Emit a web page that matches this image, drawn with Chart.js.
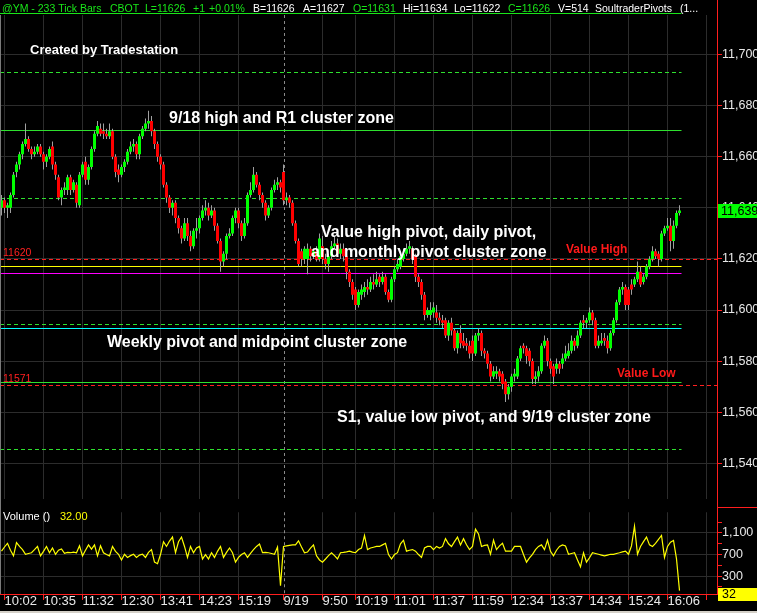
<!DOCTYPE html>
<html>
<head>
<meta charset="utf-8">
<title>@YM - 233 Tick Bars</title>
<script src="https://cdn.jsdelivr.net/npm/chart.js@4/dist/chart.umd.min.js"></script>
<style>
  html, body { margin: 0; padding: 0; background: #000; }
  body { width: 757px; height: 613px; position: relative; overflow: hidden; }
  .pane { position: absolute; left: 0; width: 757px; }
  #pricePane { top: 0; height: 506px; }
  #volumePane { top: 506px; height: 107px; }
</style>
</head>
<body>
<div class="pane" id="pricePane"><canvas id="priceChart"></canvas></div>
<div class="pane" id="volumePane"><canvas id="volumeChart"></canvas></div>
<script>
// ---- 233-tick bars, 9/18 - 9/19 ----
const opens = [
  11640,11643,11640,11640,11645,11654,11657,11661,11665,11667,
  11663,11661,11662,11664,11661,11658,11660,11664,11657,11652,
  11644,11647,11647,11652,11647,11649,11641,11653,11658,11651,
  11656,11663,11669,11671,11670,11669,11668,11670,11660,11655,
  11653,11656,11658,11662,11664,11665,11661,11668,11671,11673,
  11674,11670,11665,11660,11657,11649,11644,11640,11642,11636,
  11632,11628,11634,11629,11625,11631,11632,11636,11639,11640,
  11637,11639,11633,11627,11619,11622,11629,11630,11636,11639,
  11634,11629,11634,11645,11647,11653,11649,11645,11642,11637,
  11640,11647,11649,11650,11654,11643,11644,11642,11634,11627,
  11623,11620,11620,11624,11621,11623,11620,11625,11620,11618,
  11621,11625,11626,11622,11624,11621,11615,11611,11608,11602,
  11606,11607,11609,11608,11611,11610,11613,11611,11613,11607,
  11604,11612,11616,11617,11620,11622,11624,11624,11621,11613,
  11611,11606,11598,11598,11599,11599,11597,11596,11596,11590,
  11595,11592,11585,11591,11588,11587,11586,11588,11583,11590,
  11591,11584,11583,11579,11574,11575,11576,11575,11572,11567,
  11570,11574,11574,11581,11586,11585,11584,11580,11573,11574,
  11576,11586,11588,11580,11578,11577,11579,11579,11581,11582,
  11584,11588,11586,11590,11596,11595,11596,11599,11596,11586,
  11587,11589,11588,11585,11591,11596,11603,11608,11609,11608,
  11610,11610,11612,11615,11611,11613,11617,11620,11623,11622,
  11620,11630,11632,11633,11627,11633,11638
];
const highs = [
  11645,11644,11642,11646,11654,11658,11662,11666,11673,11668,
  11664,11664,11665,11665,11662,11661,11664,11666,11658,11653,
  11648,11650,11653,11653,11651,11650,11654,11658,11660,11657,
  11664,11670,11674,11673,11673,11671,11673,11671,11661,11657,
  11657,11659,11663,11666,11667,11666,11669,11672,11675,11678,
  11676,11671,11666,11661,11658,11650,11645,11643,11643,11637,
  11633,11636,11636,11631,11632,11636,11637,11641,11643,11642,
  11641,11640,11634,11628,11623,11630,11632,11637,11640,11640,
  11635,11636,11646,11650,11656,11654,11650,11646,11643,11641,
  11648,11651,11652,11651,11657,11646,11645,11643,11635,11628,
  11624,11625,11626,11625,11624,11625,11630,11629,11622,11622,
  11627,11629,11628,11626,11626,11622,11616,11612,11609,11608,
  11610,11611,11612,11613,11614,11615,11614,11615,11614,11608,
  11613,11617,11620,11623,11624,11626,11627,11625,11622,11614,
  11612,11607,11601,11603,11603,11602,11599,11598,11597,11596,
  11597,11593,11592,11594,11591,11589,11588,11590,11591,11593,
  11592,11585,11584,11580,11578,11578,11577,11576,11573,11571,
  11575,11577,11582,11586,11587,11586,11585,11581,11576,11578,
  11587,11590,11589,11581,11579,11581,11580,11583,11586,11587,
  11590,11589,11592,11596,11598,11597,11601,11600,11597,11590,
  11591,11591,11590,11592,11597,11604,11609,11611,11610,11609,
  11612,11613,11619,11617,11614,11618,11621,11625,11624,11623,
  11631,11633,11636,11636,11635,11639,11641
];
const lows = [
  11637,11638,11636,11638,11644,11652,11655,11659,11664,11662,
  11659,11660,11661,11660,11655,11656,11659,11655,11651,11643,
  11641,11645,11645,11645,11646,11640,11640,11652,11649,11649,
  11655,11662,11668,11668,11667,11667,11667,11659,11652,11650,
  11652,11654,11657,11661,11662,11659,11659,11667,11670,11671,
  11668,11663,11658,11655,11648,11642,11638,11637,11634,11630,
  11626,11627,11627,11623,11624,11628,11630,11635,11637,11635,
  11636,11631,11626,11615,11617,11620,11628,11629,11634,11632,
  11627,11628,11633,11644,11646,11648,11643,11640,11635,11636,
  11639,11646,11647,11646,11641,11641,11640,11633,11626,11617,
  11617,11618,11614,11619,11620,11619,11619,11618,11616,11615,
  11620,11624,11621,11620,11619,11612,11609,11604,11600,11601,
  11604,11605,11606,11607,11608,11609,11609,11610,11606,11603,
  11603,11611,11615,11616,11619,11621,11622,11618,11611,11609,
  11604,11596,11597,11596,11597,11595,11594,11593,11589,11588,
  11590,11584,11583,11585,11585,11584,11581,11580,11582,11588,
  11582,11581,11577,11572,11573,11573,11572,11569,11564,11565,
  11568,11572,11573,11580,11583,11579,11578,11571,11571,11572,
  11575,11585,11578,11575,11571,11575,11575,11577,11580,11581,
  11583,11584,11585,11589,11593,11593,11595,11594,11585,11585,
  11586,11586,11583,11584,11590,11595,11602,11606,11600,11600,
  11606,11609,11611,11609,11610,11612,11616,11619,11620,11617,
  11619,11629,11631,11623,11624,11632,11637
];
const closes = [
  11643,11640,11641,11645,11653,11657,11661,11665,11667,11663,
  11661,11662,11664,11661,11658,11660,11663,11657,11653,11644,
  11647,11648,11652,11647,11650,11642,11653,11657,11651,11656,
  11663,11669,11672,11669,11669,11668,11670,11660,11654,11653,
  11656,11658,11662,11664,11665,11661,11668,11671,11673,11674,
  11670,11665,11660,11657,11649,11644,11640,11642,11636,11632,
  11628,11634,11629,11625,11631,11632,11636,11639,11640,11637,
  11639,11633,11627,11619,11622,11629,11630,11636,11639,11634,
  11629,11634,11645,11647,11653,11649,11645,11642,11637,11640,
  11647,11649,11650,11648,11643,11644,11642,11634,11627,11618,
  11620,11624,11624,11621,11623,11620,11628,11620,11618,11621,
  11625,11626,11622,11624,11621,11615,11611,11606,11602,11607,
  11608,11609,11608,11611,11610,11612,11611,11613,11607,11604,
  11612,11616,11618,11621,11622,11624,11625,11620,11613,11611,
  11606,11598,11600,11600,11601,11597,11596,11595,11590,11595,
  11592,11585,11591,11587,11586,11586,11583,11583,11590,11591,
  11584,11583,11579,11574,11576,11576,11574,11571,11567,11570,
  11574,11575,11581,11585,11585,11582,11580,11573,11574,11576,
  11586,11588,11580,11577,11574,11579,11577,11581,11583,11584,
  11588,11586,11590,11595,11595,11596,11599,11596,11586,11588,
  11588,11588,11585,11591,11596,11603,11608,11609,11602,11602,
  11608,11612,11615,11610,11613,11617,11620,11623,11621,11620,
  11630,11632,11633,11627,11633,11638,11639
];
const volumes = [
  763,840,908,780,676,920,850,792,705,720,
  734,790,850,676,760,850,734,821,705,780,
  804,722,740,734,745,734,862,676,780,879,
  800,879,676,862,734,700,676,850,760,705,
  600,705,647,680,705,647,690,705,647,740,
  792,560,531,700,937,850,950,1024,734,937,
  1024,850,647,850,734,821,850,618,700,618,
  734,647,760,850,647,740,821,734,560,647,
  700,734,647,720,792,850,896,734,740,734,
  720,705,838,125,850,862,870,879,879,954,
  840,734,746,820,879,676,600,560,618,680,
  734,680,618,734,740,750,763,745,734,792,
  820,1053,792,821,835,850,850,879,908,700,
  618,700,734,900,966,763,780,792,763,700,
  647,821,850,850,792,850,820,850,995,900,
  850,940,1024,879,995,880,792,850,1169,1082,
  850,870,879,705,966,792,860,908,763,763,
  763,850,850,850,700,560,640,705,792,850,
  879,792,966,760,676,780,850,879,860,705,
  720,734,600,473,734,560,640,734,720,705,
  690,676,690,705,705,720,734,750,763,705,
  860,1227,705,850,940,1024,879,850,908,980,
  1053,647,850,930,960,620,32
];

// time axis: bar slots that carry a time label
const tickBars   = [1, 14, 27, 40, 53, 66, 79, 94, 107, 118, 131, 144, 157, 170, 183, 196, 209, 222, 235];
const tickLabels = ['10:02','10:35','11:32','12:30','13:41','14:23','15:19','9/19','9:50','10:19','11:01','11:37','11:59','12:34','13:37','14:34','15:24','16:06',''];
const dayBreakBar = 94;

// price and volume axis ticks
const priceTicks = [11540, 11560, 11580, 11600, 11620, 11640, 11660, 11680, 11700];
const volumeTicks = [100, 300, 500, 700, 900, 1100, 1300];
const volumeLabelTicks = [300, 700, 1100];

// pivot / cluster levels
const levelPrices = [11693, 11670.6, 11644, 11620, 11617.2, 11614.4, 11594.7, 11592.8, 11572, 11570.7, 11545.5];
const levelKinds  = ['greenDash','greenSolid','greenDash','redDash','yellow','magenta','greenDash','cyan','greenSolid','redDash','greenDash'];
const tagPrices = [11620, 11570.7];
const tagTexts  = ['11620', '11571'];

// quote header
const headerTokens = [
  ['@YM - 233 Tick Bars','g'], ['CBOT','g'], ['L=11626','g'], ['+1','g'], ['+0.01%','g'],
  ['B=11626','w'], ['A=11627','w'], ['O=11631','g'], ['Hi=11634','w'], ['Lo=11622','w'],
  ['C=11626','g'], ['V=514','w'], ['SoultraderPivots','w'], ['(1...','w']
];
const notes = [
  'Created by Tradestation',
  '9/18 high and R1 cluster zone',
  'Value high pivot, daily pivot,',
  'and monthly pivot cluster zone',
  'Weekly pivot and midpoint cluster zone',
  'S1, value low pivot, and 9/19 cluster zone'
];
const zoneTags = ['Value High', 'Value Low'];
const lastPrice = 11639;
const lastVolume = 32;

// ---- layout & style ----
const SLOT_COUNT = 239;
const slots = Array.from({ length: SLOT_COUNT }, (_, i) => i);
const AXIS_W = 40;
const GRID = '#2c2c2c';
const RED = '#ff1e1e';
const UP = '#00ff00';
const DOWN = '#ff0000';
const WICK = '#a0a0a0';
const LABEL = '#e8e8e8';
const HDR_GREEN = '#19e619';
const NARROW = '"Liberation Sans Narrow", "Liberation Sans", Arial, sans-serif';
const SANS = '"Liberation Sans", Arial, sans-serif';

const headerX = [2, 110, 145, 193, 209, 253, 303, 353, 403, 454, 508, 558, 595, 680];
const notePlace = [[30, 54, 13], [169, 123, 16], [321, 237, 16], [311, 256.5, 16], [107, 346.5, 16], [337, 421.5, 16]];
const zoneTagPlace = [[566, 253], [617, 377]];
const levelStyle = {
  greenDash:  { color: '#2ee02e', dash: [4, 3], toAxis: false },
  greenSolid: { color: '#2ee02e', dash: [],     toAxis: false },
  redDash:    { color: '#ff2020', dash: [4, 3], toAxis: true },
  yellow:     { color: '#ffff00', dash: [],     toAxis: false },
  magenta:    { color: '#ff00ff', dash: [],     toAxis: false },
  cyan:       { color: '#00ffff', dash: [],     toAxis: false }
};

Chart.defaults.font.family = SANS;
Chart.defaults.animation = false;

const isGridBar = i => tickBars.indexOf(i) >= 0 && i !== dayBreakBar;
const xGridColor = c => isGridBar(c.index) ? GRID : 'rgba(0,0,0,0)';

function drawDayBreak(chart) {
  const { ctx, chartArea: a, scales: { x } } = chart;
  const bx = Math.round(x.getPixelForValue(dayBreakBar)) + 0.5;
  ctx.save();
  ctx.strokeStyle = '#8a8a8a';
  ctx.lineWidth = 1;
  ctx.setLineDash([3, 3]);
  ctx.beginPath();
  ctx.moveTo(bx, a.top);
  ctx.lineTo(bx, a.bottom);
  ctx.stroke();
  ctx.restore();
}

const priceDecor = {
  id: 'priceDecor',
  beforeDatasetsDraw(chart) {
    const { ctx, chartArea: a, scales: { x, y } } = chart;
    drawDayBreak(chart);
    const dataEnd = x.getPixelForValue(opens.length - 1) + 2;
    ctx.save();
    ctx.lineWidth = 1;
    levelPrices.forEach((p, k) => {
      const st = levelStyle[levelKinds[k]];
      const py = Math.round(y.getPixelForValue(p)) + 0.5;
      ctx.strokeStyle = st.color;
      ctx.setLineDash(st.dash);
      ctx.beginPath();
      ctx.moveTo(a.left, py);
      ctx.lineTo(st.toAxis ? a.right : dataEnd, py);
      ctx.stroke();
    });
    ctx.restore();
  },
  afterDraw(chart) {
    const { ctx, chartArea: a, scales: { x, y }, width, height } = chart;
    ctx.save();
    // quote header
    ctx.font = '10.5px ' + SANS;
    ctx.textBaseline = 'alphabetic';
    headerTokens.forEach(([t, c], k) => {
      ctx.fillStyle = c === 'g' ? HDR_GREEN : '#ffffff';
      ctx.fillText(t, headerX[k], 11.5);
    });
    ctx.strokeStyle = HDR_GREEN;
    ctx.lineWidth = 1;
    ctx.beginPath();
    ctx.moveTo(0, 13.5);
    ctx.lineTo(x.getPixelForValue(opens.length - 1) + 2, 13.5);
    ctx.stroke();

    // level tags on the left
    ctx.font = '10.5px ' + SANS;
    ctx.fillStyle = '#ff2020';
    tagPrices.forEach((p, k) => ctx.fillText(tagTexts[k], 3, y.getPixelForValue(p) - 2.5));

    // notes
    ctx.fillStyle = '#ffffff';
    notes.forEach((t, k) => {
      const [nx, ny, ns] = notePlace[k];
      ctx.font = 'bold ' + ns + 'px ' + SANS;
      ctx.fillText(t, nx, ny);
    });
    ctx.fillStyle = '#ff1a1a';
    ctx.font = 'bold 12px ' + SANS;
    zoneTags.forEach((t, k) => ctx.fillText(t, zoneTagPlace[k][0], zoneTagPlace[k][1]));

    // last price box
    const py = Math.round(y.getPixelForValue(lastPrice));
    ctx.fillStyle = UP;
    ctx.fillRect(a.right + 1, py - 6, width - a.right - 1, 14);
    ctx.fillStyle = '#000';
    ctx.font = '12.5px ' + NARROW;
    ctx.textBaseline = 'middle';
    ctx.fillText(lastPrice.toLocaleString('en-US'), a.right + 4, py + 1.5);

    // axis line through the header and pane gap, left frame
    ctx.strokeStyle = RED;
    ctx.beginPath();
    ctx.moveTo(a.right + 0.5, 0);
    ctx.lineTo(a.right + 0.5, height);
    ctx.stroke();
    ctx.strokeStyle = '#7a7a7a';
    ctx.beginPath();
    ctx.moveTo(0.5, a.top);
    ctx.lineTo(0.5, height);
    ctx.stroke();
    ctx.restore();
  }
};

const volumeDecor = {
  id: 'volumeDecor',
  beforeDatasetsDraw(chart) { drawDayBreak(chart); },
  afterDraw(chart) {
    const { ctx, chartArea: a, scales: { y }, width, height } = chart;
    ctx.save();
    ctx.strokeStyle = RED;
    ctx.lineWidth = 1;
    ctx.beginPath();
    ctx.moveTo(a.right + 0.5, 0);
    ctx.lineTo(a.right + 0.5, a.bottom);
    ctx.moveTo(a.right, 1.5);
    ctx.lineTo(width, 1.5);
    ctx.stroke();
    ctx.strokeStyle = '#7a7a7a';
    ctx.beginPath();
    ctx.moveTo(0.5, 0);
    ctx.lineTo(0.5, a.bottom);
    ctx.stroke();

    // study title
    ctx.font = '11px ' + SANS;
    ctx.textBaseline = 'alphabetic';
    ctx.fillStyle = '#ffffff';
    ctx.fillText('Volume ()', 3, 13.5);
    ctx.fillStyle = '#ffff00';
    ctx.fillText(lastVolume.toFixed(2), 60, 13.5);

    // last volume box
    const vy = Math.round(y.getPixelForValue(lastVolume));
    ctx.fillStyle = '#ffff00';
    ctx.fillRect(a.right + 1, vy - 3, width - a.right - 1, 13);
    ctx.fillStyle = '#000';
    ctx.font = '12.5px ' + NARROW;
    ctx.textBaseline = 'middle';
    ctx.fillText(String(lastVolume), a.right + 5, vy + 3.5);

    // window frame
    ctx.fillStyle = '#d4d0c8';
    ctx.fillRect(0, height - 2, width, 2);
    ctx.restore();
  }
};

new Chart(document.getElementById('priceChart'), {
  type: 'bar',
  data: {
    labels: slots,
    datasets: [
      {
        label: 'body',
        data: opens.map((o, i) => [o, closes[i]]),
        backgroundColor: opens.map((o, i) => closes[i] >= o ? UP : DOWN),
        barThickness: 3,
        grouped: false,
        minBarLength: 1,
        borderWidth: 0,
        inflateAmount: 0
      },
      {
        label: 'range',
        data: lows.map((l, i) => [l, highs[i]]),
        backgroundColor: WICK,
        barThickness: 1,
        grouped: false,
        borderWidth: 0,
        inflateAmount: 0
      }
    ]
  },
  options: {
    responsive: true,
    maintainAspectRatio: false,
    devicePixelRatio: 1,
    events: [],
    layout: { padding: { top: 15, bottom: 2, left: 0, right: 0 } },
    plugins: { legend: { display: false }, tooltip: { enabled: false }, title: { display: false } },
    scales: {
      x: {
        type: 'category',
        offset: true,
        ticks: { display: false, autoSkip: false },
        grid: { color: xGridColor, drawTicks: false, offset: false, lineWidth: 1 },
        border: { display: false },
        afterFit: s => { s.height = 0; }
      },
      y: {
        position: 'right',
        min: 11526.2,
        max: 11715.5,
        afterBuildTicks: s => { s.ticks = priceTicks.map(v => ({ value: v })); },
        afterFit: s => { s.width = AXIS_W; },
        ticks: {
          autoSkip: false,
          color: LABEL,
          padding: 0,
          font: { family: NARROW, size: 12.5 },
          callback: v => v.toLocaleString('en-US')
        },
        grid: { color: GRID, tickColor: RED, tickLength: 5, lineWidth: 1 },
        border: { color: RED, width: 1 }
      }
    }
  },
  plugins: [priceDecor]
});

const tickTextByBar = {};
tickBars.forEach((b, k) => { tickTextByBar[b] = tickLabels[k]; });

new Chart(document.getElementById('volumeChart'), {
  type: 'line',
  data: {
    labels: slots,
    datasets: [{
      label: 'Volume',
      data: volumes,
      borderColor: '#ffff00',
      borderWidth: 1.2,
      pointRadius: 0,
      tension: 0,
      fill: false
    }]
  },
  options: {
    responsive: true,
    maintainAspectRatio: false,
    devicePixelRatio: 1,
    events: [],
    layout: { padding: { top: 1, bottom: 0, left: 0, right: 0 } },
    plugins: { legend: { display: false }, tooltip: { enabled: false } },
    scales: {
      x: {
        type: 'category',
        offset: true,
        afterFit: s => { s.height = 19; },
        ticks: {
          autoSkip: false,
          maxRotation: 0,
          minRotation: 0,
          align: 'start',
          padding: -5,
          color: LABEL,
          font: { family: NARROW, size: 13, lineHeight: 1 },
          callback: (v, i) => tickTextByBar[i] || ''
        },
        grid: {
          color: xGridColor,
          tickColor: c => tickBars.indexOf(c.index) >= 0 ? RED : 'rgba(0,0,0,0)',
          tickLength: 6,
          offset: false,
          lineWidth: 1
        },
        border: { color: RED, width: 1 }
      },
      y: {
        position: 'right',
        min: -30,
        max: 1483,
        afterBuildTicks: s => { s.ticks = volumeTicks.map(v => ({ value: v })); },
        afterFit: s => { s.width = AXIS_W; },
        ticks: {
          autoSkip: false,
          color: LABEL,
          padding: 0,
          font: { family: NARROW, size: 12.5, lineHeight: 1 },
          callback: v => volumeLabelTicks.indexOf(v) >= 0 ? v.toLocaleString('en-US') : ''
        },
        grid: {
          color: c => (c.tick && volumeLabelTicks.indexOf(c.tick.value) >= 0) ? GRID : 'rgba(0,0,0,0)',
          tickColor: RED,
          tickLength: 5,
          lineWidth: 1
        },
        border: { color: RED, width: 1 }
      }
    }
  },
  plugins: [volumeDecor]
});
</script>
</body>
</html>
